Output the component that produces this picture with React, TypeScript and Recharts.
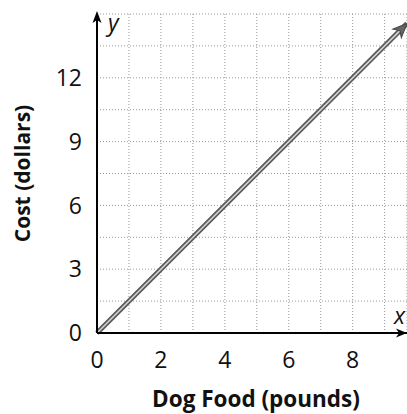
import { LineChart, Line, XAxis, YAxis, CartesianGrid, ReferenceDot } from 'recharts';

// line from the origin to the arrow tip (pounds -> dollars)
const foodPounds = [0, 9.7];
const costDollars = [0, 14.55];

const xTicks = [0, 1, 2, 3, 4, 5, 6, 7, 8, 9];
const yTicks = [0, 1.5, 3, 4.5, 6, 7.5, 9, 10.5, 12, 13.5, 15];

const xLabel = 'Dog Food (pounds)';
const yLabel = 'Cost (dollars)';

const data = foodPounds.map((x, i) => ({ x, y: costDollars[i] }));

const FONT = '"Open Sans", "Noto Sans", sans-serif';

const LineArrow = (props: any) => {
  const { cx, cy, index, points } = props;
  if (index !== data.length - 1) return <g key={`d${index}`} />;
  let angle = -45;
  if (points && points[index - 1]) {
    const p = points[index - 1];
    angle = (Math.atan2(cy - p.y, cx - p.x) * 180) / Math.PI;
  }
  return (
    <g key={`d${index}`} transform={`translate(${cx},${cy}) rotate(${angle})`}>
      <polygon points="0,0 -14,-6 -10,0 -14,6" fill="#666" stroke="#444" strokeWidth={1} />
    </g>
  );
};

const YArrow = (props: any) => {
  const { cx, cy } = props;
  return (
    <g>
      <polygon points={`${cx},${cy - 3} ${cx - 4.5},${cy + 9} ${cx},${cy + 6} ${cx + 4.5},${cy + 9}`} fill="#000" />
      <text x={cx + 11} y={cy + 17} fontSize={23} fontStyle="italic" fontFamily={FONT} fill="#111">y</text>
    </g>
  );
};

const XArrow = (props: any) => {
  const { cx, cy } = props;
  return (
    <g>
      <polygon points={`${cx},${cy} ${cx - 11},${cy - 4.5} ${cx - 8},${cy} ${cx - 11},${cy + 4.5}`} fill="#000" />
      <text x={cx - 13} y={cy - 9} fontSize={23} fontStyle="italic" fontFamily={FONT} fill="#111">x</text>
    </g>
  );
};

const YTitle = (props: any) => {
  const vb = props.viewBox || { x: 0, y: 14, width: 97, height: 319 };
  const cy = vb.y + vb.height / 2;
  return (
    <text
      x={22}
      y={cy}
      transform={`rotate(-90, 22, ${cy})`}
      textAnchor="middle"
      dominantBaseline="central"
      fontSize={21}
      fontWeight="bold"
      fontFamily={FONT}
      fill="#111"
    >
      {yLabel}
    </text>
  );
};

const XTitle = () => (
  <text x={256} y={407} textAnchor="middle" fontSize={22.5} fontWeight="bold" fontFamily={FONT} fill="#111">
    {xLabel}
  </text>
);

export default function App() {
  return (
    <div style={{ position: 'absolute', left: 0, top: 0, width: 407, height: 414, background: '#fff' }}>
      <LineChart width={407} height={414} data={data} margin={{ top: 14, right: 0, bottom: 0, left: 0 }}>
        <CartesianGrid stroke="#999" strokeDasharray="1 2" />
        <XAxis
          dataKey="x"
          type="number"
          domain={[0, 9.7]}
          ticks={xTicks}
          interval={0}
          height={81}
          tickFormatter={(v: number) => (v % 2 === 0 ? String(v) : '')}
          tickLine={false}
          tickSize={6}
          tickMargin={13}
          tick={{ fontSize: 23, fill: '#111', fontFamily: FONT }}
          axisLine={{ stroke: '#000', strokeWidth: 2 }}
          label={<XTitle />}
        />
        <YAxis
          type="number"
          domain={[0, 15]}
          ticks={yTicks}
          interval={0}
          width={97}
          tickFormatter={(v: number) => (v % 3 === 0 && v < 15 ? String(v) : '')}
          tickLine={false}
          tickSize={6}
          tickMargin={9}
          tick={{ fontSize: 23, fill: '#111', fontFamily: FONT }}
          axisLine={{ stroke: '#000', strokeWidth: 2 }}
          label={<YTitle />}
        />
        <Line dataKey="y" stroke="#5a5a5a" strokeWidth={5} dot={false} activeDot={false} isAnimationActive={false} />
        <Line dataKey="y" stroke="#d6d6d6" strokeWidth={1.5} dot={<LineArrow />} activeDot={false} isAnimationActive={false} />
        <ReferenceDot x={0} y={15} r={0} shape={<YArrow />} />
        <ReferenceDot x={9.7} y={0} r={0} shape={<XArrow />} />
      </LineChart>
    </div>
  );
}
